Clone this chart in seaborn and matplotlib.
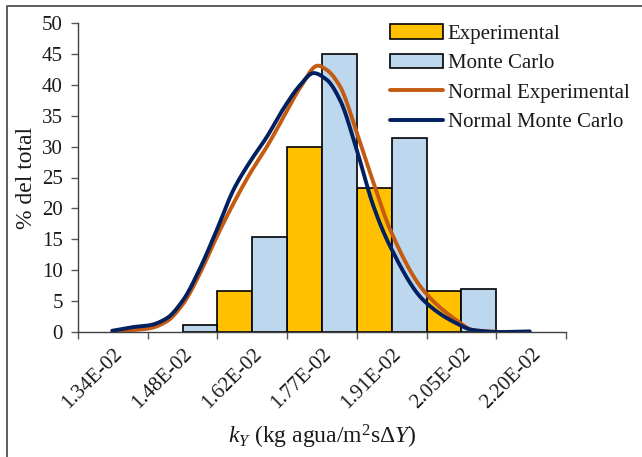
import numpy as np
import pandas as pd
import matplotlib
matplotlib.use("Agg")
import matplotlib.pyplot as plt
from matplotlib.lines import Line2D
from matplotlib.patches import Patch
import seaborn as sns

# ---- data -------------------------------------------------------------
categories = ["1.34E-02", "1.48E-02", "1.62E-02", "1.77E-02",
              "1.91E-02", "2.05E-02", "2.20E-02"]
experimental = [0.0, 0.0, 6.7, 30.0, 23.3, 6.7, 0.0]
monte_carlo = [0.0, 1.2, 15.4, 45.0, 31.4, 7.0, 0.0]

# fitted normal curves, positions in category units (0 = first category)
normal_exp_x = [0.05, 0.29, 0.53, 0.77, 1.01, 1.25, 1.49, 1.73, 1.97,
                2.21, 2.45, 2.69, 2.94, 3.07, 3.26, 3.50, 3.74, 3.98,
                4.45, 4.93, 5.17, 5.55]
normal_exp_y = [0.05, 0.3, 0.6, 1.7, 4.6, 9.5, 15.4, 20.8, 25.7,
                30.0, 34.8, 39.6, 43.1, 42.4, 39.7, 32.2, 24.1, 16.5,
                6.8, 1.9, 0.3, 0.0]
normal_mc_x = [-0.01, 0.29, 0.53, 0.77, 1.01, 1.25, 1.49, 1.73, 1.97,
               2.21, 2.45, 2.69, 2.88, 3.07, 3.26, 3.50, 3.74, 3.98,
               4.45, 4.93, 5.17, 5.55, 5.98]
normal_mc_y = [0.2, 0.8, 1.1, 2.2, 5.2, 10.3, 16.5, 23.0, 27.6,
               31.6, 36.2, 40.0, 41.9, 40.8, 37.5, 29.4, 20.3, 13.8,
               5.2, 1.4, 0.3, 0.0, 0.1]

series_names = ["Experimental", "Monte Carlo"]
bar_colors = ["#FFC000", "#BDD7EE"]
line_names = ["Normal Experimental", "Normal Monte Carlo"]
line_colors = ["#C55A11", "#002060"]


def pchip(x, y, n=600):
    """Shape-preserving cubic through the given points (Fritsch-Carlson)."""
    x = np.asarray(x, float)
    y = np.asarray(y, float)
    h = np.diff(x)
    d = np.diff(y) / h
    m = np.zeros_like(y)
    for k in range(1, len(x) - 1):
        if d[k - 1] * d[k] > 0:
            w1 = 2 * h[k] + h[k - 1]
            w2 = h[k] + 2 * h[k - 1]
            m[k] = (w1 + w2) / (w1 / d[k - 1] + w2 / d[k])
    m[0], m[-1] = d[0], d[-1]
    xs = np.linspace(x[0], x[-1], n)
    idx = np.clip(np.searchsorted(x, xs) - 1, 0, len(h) - 1)
    t = (xs - x[idx]) / h[idx]
    h00 = 2 * t ** 3 - 3 * t ** 2 + 1
    h10 = t ** 3 - 2 * t ** 2 + t
    h01 = -2 * t ** 3 + 3 * t ** 2
    h11 = t ** 3 - t ** 2
    ys = (h00 * y[idx] + h10 * h[idx] * m[idx]
          + h01 * y[idx + 1] + h11 * h[idx] * m[idx + 1])
    return xs, np.clip(ys, 0, None)


# ---- style ------------------------------------------------------------
sns.set_theme(style="white")
plt.rcParams["font.family"] = ["Liberation Serif", "DejaVu Serif"]
plt.rcParams["mathtext.fontset"] = "custom"
plt.rcParams["mathtext.rm"] = "Liberation Serif"
plt.rcParams["mathtext.it"] = "Liberation Serif:italic"
plt.rcParams["mathtext.bf"] = "Liberation Serif:bold"

W, H = 642, 457
fig = plt.figure(figsize=(W / 100, H / 100), dpi=100)
ax = fig.add_axes([78 / W, (H - 332) / H, (566 - 78) / W, (332 - 23) / H])

# ---- bars -------------------------------------------------------------
rows = []
for name, vals in zip(series_names, [experimental, monte_carlo]):
    for c, v in zip(categories, vals):
        if v > 0:
            rows.append({"cat": c, "serie": name, "pct": v})
df = pd.DataFrame(rows)

sns.barplot(data=df, x="cat", y="pct", hue="serie", order=categories,
            hue_order=series_names, palette=bar_colors, width=1.0,
            saturation=1, edgecolor="black", linewidth=1.2,
            errorbar=None, legend=False, ax=ax)

# ---- normal curves ----------------------------------------------------
for xs, ys, col in [(normal_exp_x, normal_exp_y, line_colors[0]),
                    (normal_mc_x, normal_mc_y, line_colors[1])]:
    sx, sy = pchip(xs, ys)
    sns.lineplot(x=sx, y=sy, sort=False, color=col, linewidth=2.8,
                 estimator=None, ax=ax)

# ---- axes -------------------------------------------------------------
tick_fs = 15
ax.set_xlim(-0.5, len(categories) - 0.5)
ax.set_ylim(0, 50)
ax.set_yticks(np.arange(0, 51, 5))
ax.set_xticks(range(len(categories)))
ax.set_xticklabels(categories, rotation=45, ha="right",
                   rotation_mode="anchor")
ax.set_xticks(np.arange(-0.5, len(categories) + 0.5, 1), minor=True)
ax.tick_params(axis="x", which="major", length=0, pad=9,
               labelsize=tick_fs, labelcolor="#1a1a1a")
ax.tick_params(axis="x", which="minor", length=5, width=1,
               color="#595959", direction="out")
ax.tick_params(axis="y", length=5, width=1, color="#595959",
               direction="out", labelsize=tick_fs, labelcolor="#1a1a1a",
               pad=6)
ax.xaxis.set_ticks_position("bottom")
ax.yaxis.set_ticks_position("left")

for s in ["top", "right"]:
    ax.spines[s].set_visible(False)
for s in ["left", "bottom"]:
    ax.spines[s].set_color("#404040")
    ax.spines[s].set_linewidth(1.0)

ax.set_xlabel(r"$k_Y$ (kg agua/m$^2$s$\Delta Y$)", fontsize=17,
              color="#1a1a1a")
ax.set_ylabel("% del total", fontsize=17, color="#1a1a1a")
ax.xaxis.set_label_coords(0.5, -(423 - 332) / (332 - 23))
ax.yaxis.set_label_coords(-(78 - 37) / (566 - 78), 0.5)

# ---- legend -----------------------------------------------------------
handles = [Patch(facecolor=bar_colors[0], edgecolor="black", linewidth=1.2),
           Patch(facecolor=bar_colors[1], edgecolor="black", linewidth=1.2),
           Line2D([], [], color=line_colors[0], linewidth=2.8),
           Line2D([], [], color=line_colors[1], linewidth=2.8)]
fig.legend(handles, series_names + line_names, loc="upper left",
           bbox_to_anchor=(390 / W, 1 - 24 / H), frameon=False,
           fontsize=15, handlelength=2.55, handletextpad=0.22,
           labelspacing=0.48, borderpad=0, borderaxespad=0,
           labelcolor="#1a1a1a")

# ---- chart border (left and top edges) ---------------------------------
fig.add_artist(Line2D([7 / W, 7 / W, 1.0], [0.0, 1 - 5.5 / H, 1 - 5.5 / H],
                      transform=fig.transFigure, color="#505050",
                      linewidth=1.3))

fig.savefig("out.png", dpi=100)
